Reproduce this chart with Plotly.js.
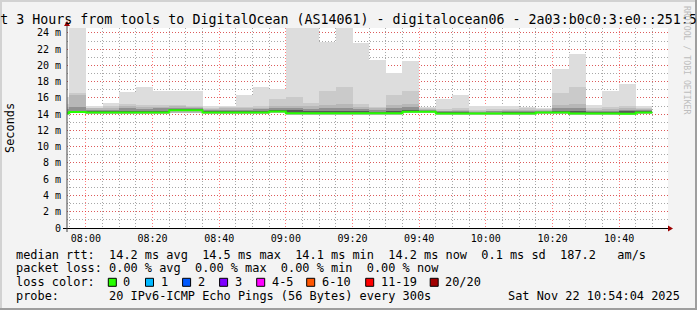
<!DOCTYPE html>
<html><head><meta charset="utf-8">
<script src="https://cdn.plot.ly/plotly-3.0.1.min.js"></script>
<style>html,body{margin:0;padding:0;background:#f3f3f3;overflow:hidden}#chart{width:697px;height:310px}</style>
</head><body><div id="chart"></div><script>
// ---------------- data ----------------
const chartDay = [2025, 10, 22]; // 2025-11-22 (month 0-based)
const barStart = ['07:50','07:55','08:00','08:05','08:10','08:15','08:20','08:25','08:30','08:35','08:40','08:45',
  '08:50','08:55','09:00','09:05','09:10','09:15','09:20','09:25','09:30','09:35','09:40','09:45',
  '09:50','09:55','10:00','10:05','10:10','10:15','10:20','10:25','10:30','10:35','10:40','10:45'];
// median rtt (ms)
const median = [14.10,14.27,14.22,14.22,14.22,14.22,14.22,14.47,14.47,14.20,14.20,14.20,
  14.20,14.33,14.12,14.10,14.10,14.10,14.10,14.10,14.10,14.30,14.30,14.08,
  14.08,14.08,14.08,14.08,14.08,14.22,14.22,14.08,14.08,14.08,14.05,14.22];
// smoke: sorted ping values (ms)
const pingMax = [16.1,25.0,14.96,15.4,16.7,17.4,16.85,16.85,16.85,15.0,14.96,16.3,
  17.4,17.05,25.0,25.0,22.9,25.0,22.7,20.7,19.1,20.5,14.9,15.9,
  16.3,15.0,15.0,15.0,14.9,14.8,19.6,21.4,15.15,16.8,17.7,15.0];
const ping19 = [15.3,16.6,14.8,14.95,15.2,15.1,15.1,15.1,15.0,14.8,14.85,14.9,
  15.05,15.9,16.15,15.35,16.9,17.4,15.2,14.9,16.3,16.8,14.75,14.65,
  14.8,14.55,14.65,14.65,14.7,14.65,16.6,17.4,14.7,14.9,15.0,14.8];
const ping18 = [14.9,16.3,14.7,14.75,15.0,14.9,14.9,14.95,14.9,14.65,14.75,14.7,
  14.8,15.0,15.0,14.95,15.1,15.3,14.9,14.7,15.1,15.3,14.6,14.45,
  14.5,14.4,14.45,14.5,14.55,14.5,15.1,15.2,14.5,14.6,14.75,14.65];
const ping16 = [14.6,14.9,14.5,14.55,14.75,14.65,14.7,14.8,14.75,14.5,14.55,14.5,
  14.6,14.7,14.75,14.6,14.7,14.8,14.6,14.5,14.7,14.85,14.5,14.35,
  14.4,14.3,14.35,14.35,14.4,14.4,14.7,14.7,14.35,14.4,14.5,14.5];
const ping13 = [14.3,14.45,14.35,14.35,14.4,14.4,14.4,14.6,14.6,14.35,14.35,14.35,
  14.35,14.5,14.5,14.35,14.4,14.45,14.35,14.3,14.4,14.5,14.4,14.25,
  14.25,14.2,14.2,14.25,14.25,14.3,14.4,14.35,14.25,14.25,14.4,14.35];
const ping8 = [14.05,14.22,14.18,14.18,14.18,14.18,14.18,14.35,14.35,14.15,14.15,14.15,
  14.15,14.25,14.05,14.05,14.05,14.05,14.05,14.05,14.05,14.25,14.25,14.03,
  14.03,14.03,14.03,14.03,14.03,14.18,14.18,14.03,14.03,14.03,14.0,14.18];
const pingMin = [13.95,14.1,14.05,14.05,14.05,14.05,14.05,14.15,14.15,14.05,14.05,14.05,
  14.05,14.1,13.95,13.95,13.95,13.95,13.95,13.95,13.95,14.1,14.1,13.95,
  13.95,13.95,13.95,13.95,13.95,14.05,14.05,13.95,13.95,13.95,13.9,14.05];
const yTickVals = [0,2,4,6,8,10,12,14,16,18,20,22,24];
const yTickText = ['0','2 m','4 m','6 m','8 m','10 m','12 m','14 m','16 m','18 m','20 m','22 m','24 m'];
const lossLabels = ['0','1','2','3','4-5','6-10','11-19','20/20'];
const lossColors = ['#26ff00','#00b8ff','#0059ff','#7e00ff','#ff00ff','#ff5500','#ff0000','#a10000'];
const titleText = 't 3 Hours from tools to DigitalOcean (AS14061) - digitalocean06 - 2a03:b0c0:3:e0::251:5';
const legendRows = [
  'median rtt:  14.2 ms avg  14.5 ms max  14.1 ms min  14.2 ms now  0.1 ms sd  187.2   am/s',
  'packet loss: 0.00 % avg  0.00 % max  0.00 % min  0.00 % now',
  'loss color:',
  'probe:       20 IPv6-ICMP Echo Pings (56 Bytes) every 300s'
];
const stampText = 'Sat Nov 22 10:54:04 2025';
const yTitle = 'Seconds';
const watermark = 'RRDTOOL / TOBI OETIKER';

// ---------------- layout helpers ----------------
const W = 697, H = 310, ML = 67, MR = 29, MT = 28, MB = 82;
const PW = W - ML - MR, PH = H - MT - MB;
const PX = x => (x - ML) / PW;
const PY = y => (H - MB - y) / PH;
const STEP = 5 * 60 * 1000;
const toMs = s => { const p = s.split(':').map(Number); return Date.UTC(chartDay[0], chartDay[1], chartDay[2], p[0], p[1], p[2] || 0); };
const MONO = 'DejaVu Sans Mono, monospace';
const nb = s => s.replace(/ /g, '\u00a0');

const startsMs = barStart.map(toMs);
const centers = startsMs.map(v => v + STEP / 2);

const layers = [
  {hi: pingMax, lo: pingMin, color: '#dddddd'},
  {hi: ping19, lo: pingMin, color: '#cacaca'},
  {hi: ping18, lo: pingMin, color: '#b7b7b7'},
  {hi: ping16, lo: ping8, color: '#919191'},
  {hi: ping13, lo: ping8, color: '#585858'}
];
const traces = layers.map(L => ({
  type: 'bar', x: centers, base: L.lo, y: L.hi.map((h, i) => h - L.lo[i]),
  width: STEP, marker: {color: L.color, line: {width: 0}}, hoverinfo: 'skip'
}));
traces.push({
  type: 'scatter', mode: 'lines',
  x: startsMs.concat([startsMs[startsMs.length - 1] + STEP]),
  y: median.concat([median[median.length - 1]]),
  line: {shape: 'hv', color: lossColors[0], width: 2}, hoverinfo: 'skip'
});

const annotations = [];
const txt = (text, x, y, size, extra) => annotations.push(Object.assign({
  text: nb(text), xref: 'paper', yref: 'paper', x: PX(x), y: PY(y), xanchor: 'left', yanchor: 'middle',
  showarrow: false, font: {family: MONO, size: size, color: '#000'}, borderpad: 0
}, extra || {}));
const rowY = [254.5, 268.4, 282.3, 296.1];
legendRows.forEach((r, i) => txt(r, 15, rowY[i], 11.9));
txt(stampText, 681, rowY[3], 11.9, {xanchor: 'right'});
txt(yTitle, 10, 128, 11.9, {xanchor: 'center', textangle: -90});
txt(watermark, 687, 60, 8.2, {xanchor: 'center', textangle: 90, font: {family: MONO, size: 8.2, color: '#bdbdbd'}});

const boxX = [108.3, 145.5, 182.6, 219.6, 256.7, 306.7, 365.7, 430.2];
const shapes = [];
lossLabels.forEach((lab, i) => {
  shapes.push({type: 'rect', xref: 'paper', yref: 'paper', x0: PX(boxX[i]), x1: PX(boxX[i] + 8), y0: PY(286.3), y1: PY(278.3),
    fillcolor: lossColors[i], line: {color: '#000', width: 1}});
  txt(lab, boxX[i] + 14, rowY[2], 11.9);
});
// axes with arrows
const pathPx = pts => 'M' + pts.map(p => PX(p[0]) + ',' + PY(p[1])).join(' L') + ' Z';
shapes.push({type: 'line', xref: 'paper', yref: 'paper', x0: PX(63), x1: PX(669), y0: PY(228.5), y1: PY(228.5), line: {color: '#000', width: 1}});
shapes.push({type: 'line', xref: 'paper', yref: 'paper', x0: PX(67), x1: PX(67), y0: PY(232), y1: PY(24), line: {color: '#444', width: 1}});
shapes.push({type: 'path', xref: 'paper', yref: 'paper', path: pathPx([[668, 225.5], [673, 228.5], [668, 231.5]]), fillcolor: '#9b0000', line: {width: 0}});
shapes.push({type: 'path', xref: 'paper', yref: 'paper', path: pathPx([[64, 26], [67, 21], [70, 26]]), fillcolor: '#9b0000', line: {width: 0}});
// frame shading
const rectPx = (x0, y0, x1, y1, c) => shapes.push({type: 'rect', xref: 'paper', yref: 'paper', x0: PX(x0), x1: PX(x1), y0: PY(y1), y1: PY(y0), fillcolor: c, line: {width: 0}});
rectPx(0, 0, 697, 2, '#d2d2d2');
rectPx(0, 0, 2, 310, '#d2d2d2');
rectPx(695, 0, 697, 310, '#9e9e9e');
rectPx(0, 308, 697, 310, '#9e9e9e');

const majorGrid = 'rgba(255,40,40,0.6)';
const minorGrid = 'rgba(110,110,110,0.6)';
const GD = '1px,2px';
const layout = {
  width: W, height: H, margin: {l: ML, r: MR, t: MT, b: MB, pad: 0},
  paper_bgcolor: '#f3f3f3', plot_bgcolor: '#ffffff', showlegend: false,
  barmode: 'overlay', bargap: 0,
  title: {text: titleText, font: {family: MONO, size: 13.3, color: '#000'}, x: 0.5, xref: 'container', xanchor: 'center',
    y: 1 - 19 / H, yref: 'container', yanchor: 'middle', pad: {t: 0, b: 0, l: 0, r: 0}},
  xaxis: {type: 'date', range: [toMs('07:54:20'), toMs('10:54:40')], tick0: toMs('08:00'), dtick: 20 * 60 * 1000,
    tickformat: '%H:%M', ticks: '', showline: false, zeroline: false, layer: 'above traces',
    showgrid: true, gridcolor: majorGrid, griddash: GD, gridwidth: 1,
    tickfont: {family: MONO, size: 10, color: '#000'}, ticklabelstandoff: 3, fixedrange: true,
    minor: {tick0: toMs('08:00'), dtick: STEP, showgrid: true, gridcolor: minorGrid, griddash: GD, gridwidth: 1}},
  yaxis: {range: [0, 24.6], tickmode: 'array', tickvals: yTickVals, ticktext: yTickText, ticks: '', showline: false,
    zeroline: false, layer: 'above traces', showgrid: true, gridcolor: majorGrid, griddash: GD, gridwidth: 1,
    tickfont: {family: MONO, size: 10, color: '#000'}, ticklabelstandoff: 5, fixedrange: true,
    minor: {tickmode: 'linear', tick0: 0, dtick: 1, showgrid: true, gridcolor: minorGrid, griddash: GD, gridwidth: 1}},
  annotations: annotations, shapes: shapes
};
Plotly.newPlot('chart', traces, layout, {staticPlot: true, displayModeBar: false});
</script></body></html>
